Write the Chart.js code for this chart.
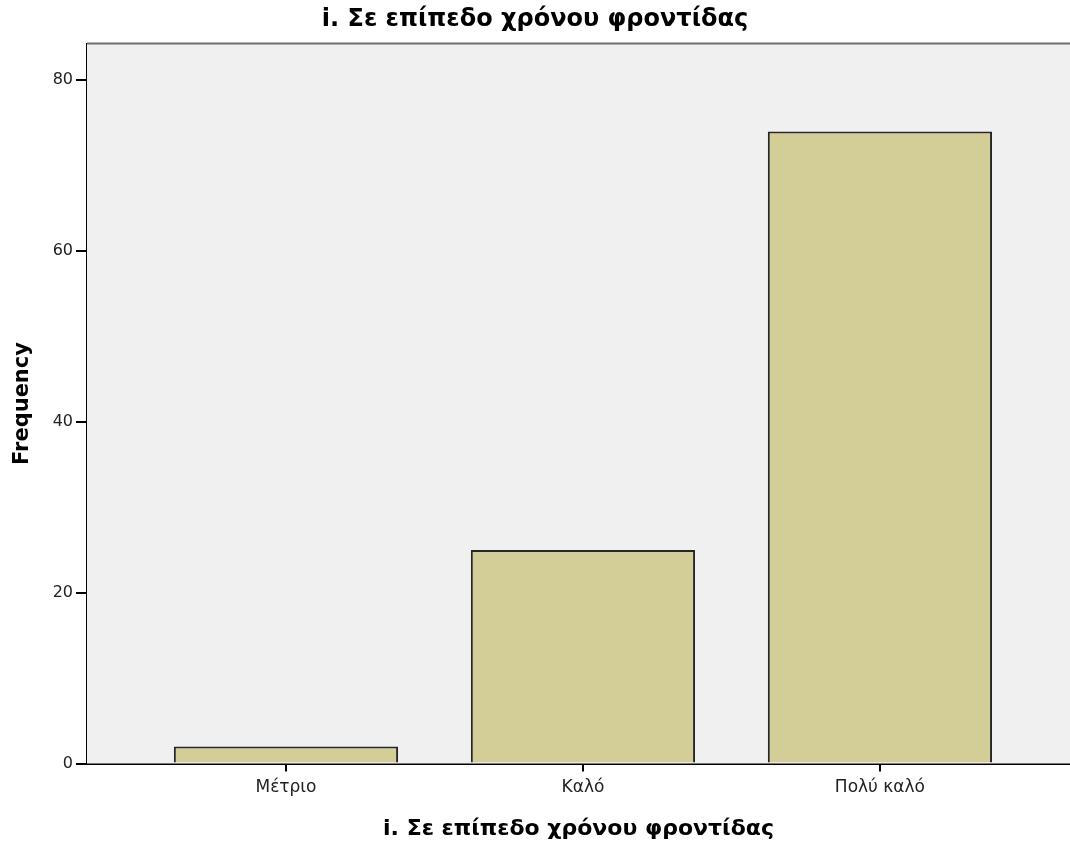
<!DOCTYPE html>
<html>
<head>
<meta charset="utf-8">
<script src="https://cdn.jsdelivr.net/npm/chart.js@4/dist/chart.umd.min.js"></script>
<style>
  html, body { margin: 0; padding: 0; background: #fff; }
  #wrap { width: 1070px; height: 845px; }
</style>
</head>
<body>
<div id="wrap"><canvas id="chart" width="1070" height="845"></canvas></div>
<script>
const categories = ['Μέτριο', 'Καλό', 'Πολύ καλό'];
const frequencies = [2, 25, 74];
const yTicks = [0, 20, 40, 60, 80];
const chartTitle = 'i. Σε επίπεδο χρόνου φροντίδας';

const FONT = 'DejaVu Sans';

// plot background and top frame line, drawn behind the bars
const plotFrame = {
  id: 'plotFrame',
  beforeDatasetsDraw(chart) {
    const { ctx, chartArea: a } = chart;
    ctx.save();
    ctx.fillStyle = '#f0f0f0';
    ctx.fillRect(a.left, a.top, a.right - a.left, a.bottom - a.top);
    ctx.strokeStyle = '#6e6e6e';
    ctx.lineWidth = 2;
    ctx.beginPath();
    ctx.moveTo(a.left, a.top);
    ctx.lineTo(a.right, a.top);
    ctx.stroke();
    ctx.restore();
  },
};

function drawBarChart(element) {
  const ctx = document.getElementById(element);
  return new Chart(ctx, {
    type: 'bar',
    data: {
      datasets: [{
        data: categories.map((c, i) => ({ x: i, y: frequencies[i] })),
        backgroundColor: '#d3ce97',
        borderColor: '#262626',
        borderWidth: 2,
        barPercentage: 0.755,
        categoryPercentage: 1,
      }],
    },
    plugins: [plotFrame],
    options: {
      responsive: false,
      animation: false,
      devicePixelRatio: 1,
      layout: { padding: 0 },
      plugins: {
        legend: { display: false },
        tooltip: { enabled: false },
        title: {
          display: true,
          text: chartTitle,
          color: '#000',
          font: { family: FONT, size: 24, weight: 'bold', lineHeight: 1.2 },
          padding: { top: 5, bottom: 9.7 },
        },
      },
      scales: {
        x: {
          type: 'linear',
          offset: false,
          min: -0.67,
          max: 2.64,
          afterBuildTicks(scale) {
            scale.ticks = categories.map((c, i) => ({ value: i }));
          },
          afterFit(scale) { scale.height = 81.5; },
          ticks: {
            autoSkip: false,
            maxRotation: 0,
            padding: 6,
            color: '#222',
            font: { family: FONT, size: 17 },
            callback: (v) => categories[v],
          },
          grid: {
            offset: false,
            drawOnChartArea: false,
            drawTicks: true,
            tickLength: 8,
            color: '#000',
            lineWidth: 2,
          },
          border: { display: true, color: '#000', width: 2 },
          title: {
            display: true,
            text: chartTitle,
            color: '#000',
            font: { family: FONT, size: 22, weight: 'bold', lineHeight: 1.2 },
            padding: { top: 0, bottom: 3 },
          },
        },
        y: {
          min: 0,
          max: 84.3,
          afterBuildTicks(scale) {
            scale.ticks = yTicks.map((v) => ({ value: v }));
          },
          afterFit(scale) { scale.width = 87; },
          ticks: {
            padding: 3,
            color: '#222',
            font: { family: FONT, size: 16 },
          },
          grid: {
            drawOnChartArea: false,
            drawTicks: true,
            tickLength: 11,
            color: '#000',
            lineWidth: 2,
          },
          border: { display: true, color: '#000', width: 2 },
          title: {
            display: true,
            text: 'Frequency',
            color: '#000',
            font: { family: FONT, size: 21, weight: 'bold', lineHeight: 1.2 },
            padding: { top: 10, bottom: 0 },
          },
        },
      },
    },
  });
}

drawBarChart('chart');
</script>
</body>
</html>
